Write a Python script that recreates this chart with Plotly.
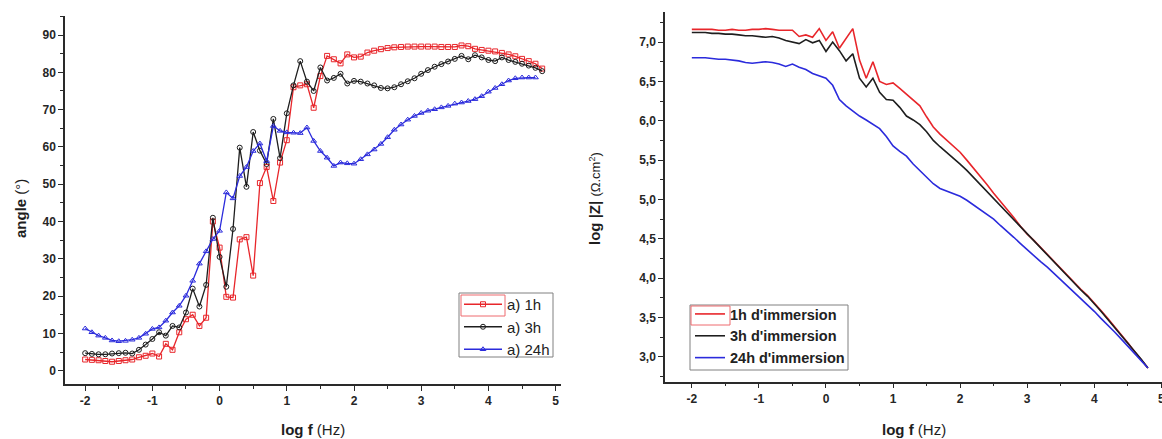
import plotly.graph_objects as go

W, H = 1162, 439

# frequency sweep, 10 points per decade (log10 of f in Hz)
log_f = [-2.0, -1.9, -1.8, -1.7, -1.6, -1.5, -1.4, -1.3, -1.2, -1.1,
         -1.0, -0.9, -0.8, -0.7, -0.6, -0.5, -0.4, -0.3, -0.2, -0.1,
         0.0, 0.1, 0.2, 0.3, 0.4, 0.5, 0.6, 0.7, 0.8, 0.9,
         1.0, 1.1, 1.2, 1.3, 1.4, 1.5, 1.6, 1.7, 1.8, 1.9,
         2.0, 2.1, 2.2, 2.3, 2.4, 2.5, 2.6, 2.7, 2.8, 2.9,
         3.0, 3.1, 3.2, 3.3, 3.4, 3.5, 3.6, 3.7, 3.8, 3.9,
         4.0, 4.1, 4.2, 4.3, 4.4, 4.5, 4.6, 4.7, 4.8]

# phase angle (deg)
phase_1h = [3.0, 2.9, 2.8, 2.6, 2.4, 2.6, 2.8, 3.0, 3.6, 4.0,
            4.6, 3.8, 7.2, 5.6, 10.3, 13.8, 15.0, 12.0, 14.2, 40.0,
            33.0, 19.8, 19.6, 35.2, 35.8, 25.5, 50.3, 54.6, 45.5, 55.8,
            61.8, 76.0, 76.5, 76.8, 70.5, 79.0, 84.4, 83.5, 82.4, 84.8,
            84.0, 84.2, 85.3, 85.8, 86.2, 86.5, 86.7, 86.8, 86.9, 86.9,
            86.9, 86.9, 86.9, 86.8, 86.8, 86.8, 87.2, 87.0, 86.3, 86.0,
            85.8, 85.6, 85.2, 84.8, 84.3, 83.6, 83.0, 82.3, 81.0]
phase_3h = [4.7, 4.5, 4.4, 4.4, 4.6, 4.7, 4.8, 4.6, 5.6, 7.0,
            8.5, 10.3, 9.4, 12.0, 11.6, 15.6, 22.0, 17.2, 23.0, 41.0,
            30.5, 22.5, 38.0, 59.8, 49.3, 64.0, 59.0, 55.4, 67.5, 57.0,
            69.0, 76.5, 83.0, 77.5, 75.0, 81.3, 77.8, 78.5, 79.6, 77.0,
            77.7, 77.5, 77.0, 76.5, 75.8, 75.7, 76.0, 76.8, 77.6, 78.4,
            79.6, 80.6, 81.5, 82.2, 82.9, 83.6, 84.4, 83.5, 84.6, 84.0,
            83.3, 83.0, 84.0, 83.3, 82.8, 82.3, 81.8, 81.2, 80.3]
phase_24h = [11.3, 10.3, 9.4, 8.8, 8.1, 7.9, 8.0, 8.3, 8.8, 9.9,
             11.2, 11.6, 13.4, 15.6, 17.4, 20.1, 24.1, 28.7, 32.0, 35.3,
             37.5, 47.8, 46.2, 52.2, 54.6, 58.9, 60.9, 56.2, 65.6, 64.3,
             63.9, 63.8, 63.7, 65.2, 61.6, 58.9, 57.1, 54.9, 55.8, 55.6,
             55.5, 56.7, 58.0, 59.3, 60.8, 62.6, 64.6, 66.0, 67.3, 68.3,
             69.1, 69.7, 70.1, 70.6, 71.0, 71.6, 71.9, 72.3, 72.8, 73.6,
             74.8, 75.8, 76.8, 77.8, 78.4, 78.6, 78.6, 78.6]

# impedance modulus, log |Z| (ohm.cm2)
modz_1h = [7.16, 7.16, 7.16, 7.16, 7.15, 7.15, 7.16, 7.15, 7.15, 7.16,
           7.16, 7.17, 7.16, 7.15, 7.15, 7.15, 7.07, 7.09, 7.06, 7.17,
           7.02, 7.13, 6.92, 7.05, 7.17, 6.77, 6.54, 6.75, 6.50, 6.46,
           6.48, 6.41, 6.34, 6.27, 6.19, 6.05, 5.92, 5.83, 5.75, 5.68,
           5.60, 5.50, 5.40, 5.29, 5.19, 5.08, 4.98, 4.87, 4.77, 4.66,
           4.56, 4.48, 4.39, 4.31, 4.22, 4.13, 4.04, 3.95, 3.86, 3.78,
           3.69, 3.59, 3.49, 3.39, 3.29, 3.18, 3.07, 2.97, 2.86]
modz_3h = [7.12, 7.12, 7.12, 7.11, 7.11, 7.10, 7.10, 7.09, 7.08, 7.08,
           7.07, 7.06, 7.07, 7.05, 7.02, 7.00, 6.98, 7.03, 6.99, 7.02,
           6.88, 7.00, 6.89, 6.76, 6.85, 6.54, 6.43, 6.54, 6.36, 6.27,
           6.26, 6.17, 6.06, 6.01, 5.95, 5.86, 5.75, 5.67, 5.60, 5.52,
           5.45, 5.37, 5.28, 5.19, 5.10, 5.02, 4.93, 4.84, 4.75, 4.66,
           4.57, 4.48, 4.39, 4.30, 4.21, 4.12, 4.03, 3.94, 3.85, 3.77,
           3.68, 3.58, 3.48, 3.38, 3.28, 3.18, 3.07, 2.97, 2.86]
modz_24h = [6.80, 6.80, 6.80, 6.79, 6.78, 6.78, 6.77, 6.76, 6.74, 6.73,
            6.74, 6.75, 6.74, 6.72, 6.69, 6.72, 6.68, 6.65, 6.60, 6.57,
            6.54, 6.45, 6.27, 6.19, 6.12, 6.06, 6.01, 5.96, 5.90, 5.80,
            5.68, 5.61, 5.55, 5.45, 5.37, 5.29, 5.20, 5.14, 5.11, 5.08,
            5.04, 4.99, 4.93, 4.88, 4.82, 4.75, 4.67, 4.60, 4.52, 4.44,
            4.36, 4.29, 4.21, 4.14, 4.06, 3.99, 3.91, 3.83, 3.75, 3.66,
            3.58, 3.49, 3.41, 3.32, 3.23, 3.14, 3.05, 2.95, 2.86]

phase_names = ["a) 1h", "a) 3h", "a) 24h"]
modz_names = ["1h d'immersion", "3h d'immersion", "24h d'immersion"]

x_tickvals = [-2, -1, 0, 1, 2, 3, 4, 5]
x_ticktext = ["-2", "-1", "0", "1", "2", "3", "4", "5"]
phase_tickvals = [0, 10, 20, 30, 40, 50, 60, 70, 80, 90]
modz_tickvals = [3.0, 3.5, 4.0, 4.5, 5.0, 5.5, 6.0, 6.5, 7.0]
modz_ticktext = ["3,0", "3,5", "4,0", "4,5", "5,0", "5,5", "6,0", "6,5", "7,0"]

RED, BLACK, BLUE = "#e8262b", "#1e1e1e", "#2b2bdc"
FONT = "Liberation Sans, Arial, sans-serif"


def px_x(p):
    return p / W


def px_y(p):
    return 1 - p / H


fig = go.Figure()

for ys, name, col, sym in zip([phase_1h, phase_3h, phase_24h], phase_names,
                              [RED, BLACK, BLUE],
                              ["square-open", "circle-open", "triangle-up-open"]):
    fig.add_trace(go.Scatter(
        x=log_f[:len(ys)], y=ys, name=name, mode="lines+markers",
        line=dict(color=col, width=1.3),
        marker=dict(symbol=sym, size=5, color=col, line=dict(width=1, color=col)),
        xaxis="x", yaxis="y", legend="legend"))

for ys, name, col in zip([modz_1h, modz_3h, modz_24h], modz_names, [RED, BLACK, BLUE]):
    fig.add_trace(go.Scatter(
        x=log_f[:len(ys)], y=ys, name=name, mode="lines",
        line=dict(color=col, width=1.6),
        xaxis="x2", yaxis="y2", legend="legend2"))

axis_common = dict(
    showline=True, linecolor="#2a2a2a", linewidth=1.5,
    ticks="outside", ticklen=5, tickwidth=1.3, tickcolor="#2a2a2a",
    showgrid=False, zeroline=False, automargin=False,
    tickfont=dict(family=FONT, size=12, color="#262626", weight="bold"),
)
minor_common = dict(ticks="outside", ticklen=3, tickwidth=1.2, tickcolor="#2a2a2a",
                    tick0=0, showgrid=False)

fig.update_layout(
    width=W, height=H,
    margin=dict(l=0, r=0, t=0, b=0),
    paper_bgcolor="white", plot_bgcolor="white",
    font=dict(family=FONT, color="#222"),
    xaxis=dict(axis_common, domain=[px_x(65), px_x(561)], range=[-2.30, 5.08],
               tickmode="array", tickvals=x_tickvals, ticktext=x_ticktext,
               minor=dict(minor_common, dtick=0.5), anchor="y"),
    yaxis=dict(axis_common, domain=[px_y(384), px_y(16)], range=[-3.57, 95.1],
               tickmode="array", tickvals=phase_tickvals,
               minor=dict(minor_common, dtick=5), anchor="x"),
    xaxis2=dict(axis_common, domain=[px_x(665), 1.0], range=[-2.40, 5.01],
                tickmode="array", tickvals=x_tickvals, ticktext=x_ticktext,
                ticklabeloverflow="allow",
                minor=dict(minor_common, dtick=0.5), anchor="y2"),
    yaxis2=dict(axis_common, domain=[px_y(381.7), px_y(12)], range=[2.686, 7.381],
                tickmode="array", tickvals=modz_tickvals, ticktext=modz_ticktext,
                minor=dict(minor_common, dtick=0.25), anchor="x2"),
    legend=dict(x=px_x(459), y=px_y(288), xanchor="left", yanchor="top",
                borderwidth=0, bgcolor="rgba(255,255,255,0)",
                font=dict(family=FONT, size=15, color="#222"),
                itemwidth=38, tracegroupgap=0),
    legend2=dict(x=px_x(690), y=px_y(298), xanchor="left", yanchor="top",
                 borderwidth=0, bgcolor="rgba(255,255,255,0)",
                 font=dict(family=FONT, size=14.5, color="#222", weight="bold"),
                 itemwidth=30, tracegroupgap=0),
    showlegend=True,
)

# axis titles
title_font = dict(family=FONT, size=15, color="#1e1e1e")
titles = [
    ("<b>angle</b> (°)", 20, 208, -90),
    ("<b>log f</b> (Hz)", 313, 429, 0),
    ("<b>log |Z|</b> <span style='font-size:13px'>(Ω.cm<sup>2</sup>)</span>", 594, 199, -90),
    ("<b>log f</b> (Hz)", 914, 429, 0),
]
for txt, tx, ty, ang in titles:
    fig.add_annotation(text=txt, xref="paper", yref="paper",
                       x=px_x(tx), y=px_y(ty), xanchor="center", yanchor="middle",
                       textangle=ang, showarrow=False, font=title_font)

# legend frames (gray) and selection frames around the first samples (red)
frames = [((459, 293, 553, 357), "#808080"), ((690, 305, 848, 370), "#808080"),
          ((461, 295, 505, 316), "#ee6a6e"), ((691, 306, 730, 325), "#ee6a6e")]
for (x0, y0, x1, y1), col in frames:
    fig.add_shape(type="rect", xref="paper", yref="paper",
                  x0=px_x(x0), x1=px_x(x1), y0=px_y(y1), y1=px_y(y0),
                  line=dict(color=col, width=1))

fig.write_html("out.html")
